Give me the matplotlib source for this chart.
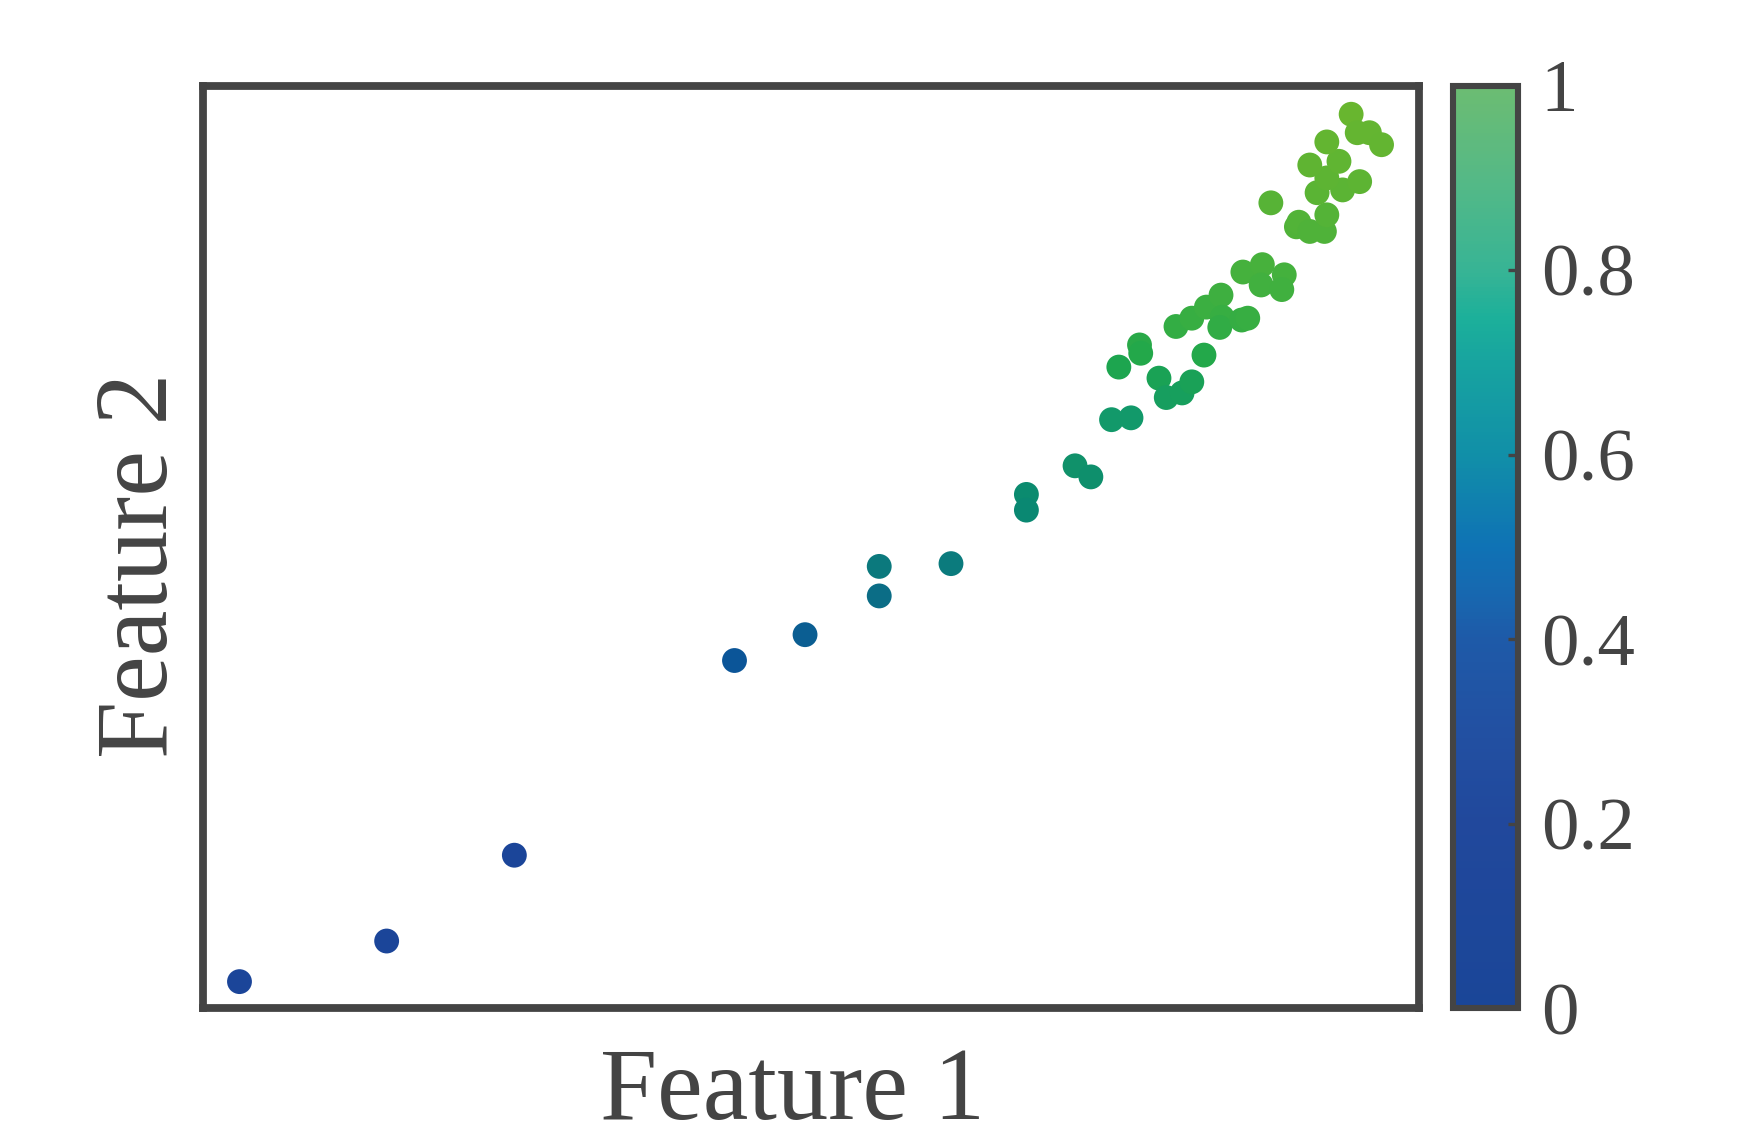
import matplotlib
matplotlib.use('Agg')
import matplotlib.pyplot as plt
from matplotlib.colors import LinearSegmentedColormap, Normalize
from matplotlib.cm import ScalarMappable

plt.rcParams['font.family'] = ['Liberation Serif', 'DejaVu Serif']

grey = '#444444'

# points (axes normalised to 0..1, no ticks shown)
feature1 = [0.030, 0.151, 0.256, 0.437, 0.495, 0.556, 0.556, 0.615, 0.677, 0.677,
            0.717, 0.730, 0.747, 0.763, 0.753, 0.770, 0.771, 0.786, 0.792, 0.805,
            0.813, 0.823, 0.800, 0.813, 0.825, 0.837, 0.838, 0.836, 0.854, 0.859,
            0.855, 0.871, 0.870, 0.889, 0.887, 0.878, 0.899, 0.901, 0.910, 0.922,
            0.924, 0.916, 0.937, 0.951, 0.924, 0.910, 0.934, 0.924, 0.944, 0.949,
            0.959, 0.969]
feature2 = [0.029, 0.073, 0.166, 0.377, 0.405, 0.479, 0.447, 0.482, 0.557, 0.540,
            0.588, 0.576, 0.638, 0.640, 0.695, 0.719, 0.710, 0.683, 0.662, 0.667,
            0.679, 0.708, 0.739, 0.748, 0.760, 0.773, 0.749, 0.738, 0.746, 0.748,
            0.798, 0.806, 0.784, 0.795, 0.779, 0.873, 0.847, 0.852, 0.842, 0.842,
            0.860, 0.884, 0.887, 0.896, 0.900, 0.914, 0.918, 0.939, 0.969, 0.949,
            0.949, 0.936]
# colour value of each point follows its position along the curve
score = feature2

cbar_ticks = [0, 0.2, 0.4, 0.6, 0.8, 1]
cbar_labels = ['0', '0.2', '0.4', '0.6', '0.8', '1']

point_cmap = LinearSegmentedColormap.from_list('pts', [
    (0.00, '#1b4599'), (0.17, '#1b4599'), (0.38, '#0b5598'), (0.41, '#0b6090'),
    (0.45, '#0b6e85'), (0.48, '#0b7a7d'), (0.55, '#0a8a70'), (0.59, '#10916a'),
    (0.64, '#12996a'), (0.70, '#1ea64c'), (0.75, '#38ae42'), (0.80, '#45b13d'),
    (0.90, '#5db433'), (1.00, '#6cb72e')])

bar_cmap = LinearSegmentedColormap.from_list('bar', [
    (0.00, '#1a4698'), (0.20, '#21489c'), (0.30, '#2250a2'), (0.40, '#1e5aa8'),
    (0.45, '#1768b0'), (0.50, '#0f72b5'), (0.60, '#118fa8'), (0.70, '#17a4a0'),
    (0.75, '#1cb09a'), (0.80, '#37b495'), (0.90, '#55b986'), (1.00, '#6cbc72')])

fig = plt.figure(figsize=(8.75, 5.71), dpi=200)
ax = fig.add_axes([0.116, 0.117, 0.695, 0.808])
cax = fig.add_axes([0.830, 0.117, 0.0377, 0.808])

ax.scatter(feature1, feature2, c=score, cmap=point_cmap, vmin=0, vmax=1,
           s=80, linewidths=0, zorder=3)
ax.set_xlim(0, 1)
ax.set_ylim(0, 1)
ax.set_xticks([])
ax.set_yticks([])
for sp in ax.spines.values():
    sp.set_linewidth(2.8)
    sp.set_color(grey)
ax.set_xlabel('Feature 1', fontsize=37, color=grey, labelpad=14)
ax.set_ylabel('Feature 2', fontsize=37, color=grey, labelpad=5)
ax.xaxis.label.set_x(0.485)
ax.yaxis.label.set_y(0.48)

sm = ScalarMappable(norm=Normalize(0, 1), cmap=bar_cmap)
cb = fig.colorbar(sm, cax=cax)
cb.set_ticks(cbar_ticks)
cb.set_ticklabels(cbar_labels)
cb.outline.set_linewidth(2.2)
cb.outline.set_edgecolor(grey)
cax.tick_params(direction='in', length=3.5, width=1.2, color=grey,
                labelsize=27, labelcolor=grey, pad=8)

fig.savefig('out.png', dpi=200)
